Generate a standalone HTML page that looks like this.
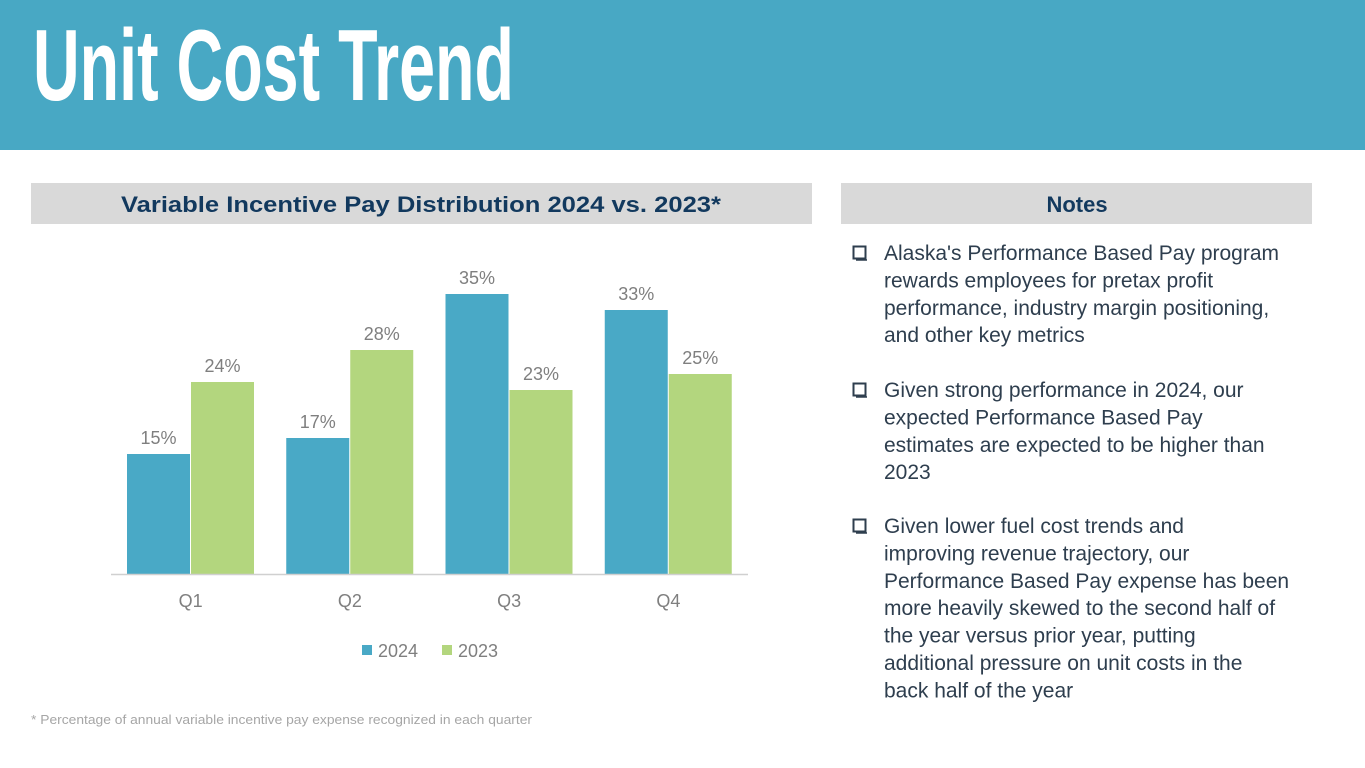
<!DOCTYPE html>
<html><head><meta charset="utf-8"><style>
body{margin:0;width:1365px;height:768px;overflow:hidden;background:#fff;font-family:"Liberation Sans",sans-serif}
svg{display:block}
</style></head><body>
<svg id="s" width="1365" height="768" xmlns="http://www.w3.org/2000/svg">
<rect x="0" y="0" width="1365" height="150" fill="#48A8C4"/>
<text x="33" y="100" font-size="101" font-weight="bold" fill="#fff" textLength="481" lengthAdjust="spacingAndGlyphs">Unit Cost Trend</text>
<rect x="31" y="183" width="781" height="41" fill="#D9D9D9"/>
<text x="421" y="212" font-size="22" font-weight="bold" fill="#12395E" text-anchor="middle" textLength="600" lengthAdjust="spacingAndGlyphs">Variable Incentive Pay Distribution 2024 vs. 2023*</text>
<rect x="841" y="183" width="471" height="41" fill="#D9D9D9"/>
<text x="1077" y="212" font-size="22" font-weight="bold" fill="#12395E" text-anchor="middle">Notes</text>
<g id="chart"></g>
<g id="notes" fill="#2E3E4E" font-size="21"></g>
<text x="31" y="724" font-size="12.5" fill="#A6A6A6" textLength="501" lengthAdjust="spacingAndGlyphs">* Percentage of annual variable incentive pay expense recognized in each quarter</text>
</svg>
<script>
const categories=["Q1","Q2","Q3","Q4"];
const values2024=[15,17,35,33];
const values2023=[24,28,23,25];
const seriesNames=["2024","2023"];
const NS="http://www.w3.org/2000/svg";
const g=document.getElementById('chart');
const x0=111,x1=748,base=574,pxPer=8;
const band=(x1-x0)/categories.length;
function xCat(i){return x0+band*i;}
function yVal(v){return base-v*pxPer;}
function mk(tag,attrs,parent){const e=document.createElementNS(NS,tag);for(const k in attrs)e.setAttribute(k,attrs[k]);parent.appendChild(e);return e;}
const colors=["#49A9C6","#B3D67E"];
const series=[values2024,values2023];
categories.forEach((c,i)=>{
  series.forEach((vals,s)=>{
    const bx=xCat(i)+16+s*64;
    const r=mk('rect',{x:bx,y:yVal(vals[i]),width:63,height:vals[i]*pxPer,fill:colors[s]},g);
    
    
    const t=mk('text',{x:bx+31.5,y:yVal(vals[i])-10,'font-size':18,fill:'#7F7F7F','text-anchor':'middle'},g);
    t.textContent=vals[i]+'%';
    
    
  });
  const t=mk('text',{x:xCat(i)+band/2,y:607,'font-size':18,fill:'#7F7F7F','text-anchor':'middle'},g);
  t.textContent=c;
  
  
});
const ax=mk('line',{x1:x0,x2:x1,y1:base+0.5,y2:base+0.5,stroke:'#D0D0D0','stroke-width':1.5},g);


const legX=[362,442];
seriesNames.forEach((n,s)=>{
  const r=mk('rect',{x:legX[s],y:645,width:10,height:10,fill:colors[s]},g);
  
  
  const t=mk('text',{x:legX[s]+16,y:657,'font-size':18,fill:'#7F7F7F'},g);
  t.textContent=n;
  
  
});
const notes=[
 [253,["Alaska's Performance Based Pay program","rewards employees for pretax profit","performance, industry margin positioning,","and other key metrics"]],
 [390,["Given strong performance in 2024, our","expected Performance Based Pay","estimates are expected to be higher than","2023"]],
 [526,["Given lower fuel cost trends and","improving revenue trajectory, our","Performance Based Pay expense has been","more heavily skewed to the second half of","the year versus prior year, putting","additional pressure on unit costs in the","back half of the year"]]
];
const ng=document.getElementById('notes');
notes.forEach(([y,lines],k)=>{
  const b=mk('rect',{x:853.5,y:y-6.5,width:12,height:12,fill:'none',stroke:'#2E3E4E','stroke-width':2},ng);
  
  
  mk('line',{x1:856,y1:y+7,x2:867,y2:y+7,stroke:'#2E3E4E','stroke-width':1.5},ng);
  lines.forEach((l,j)=>{
    const t=mk('text',{x:884,y:y+7+j*27.4},ng);
    t.textContent=l;
    
    
  });
});
</script>
</body></html>
